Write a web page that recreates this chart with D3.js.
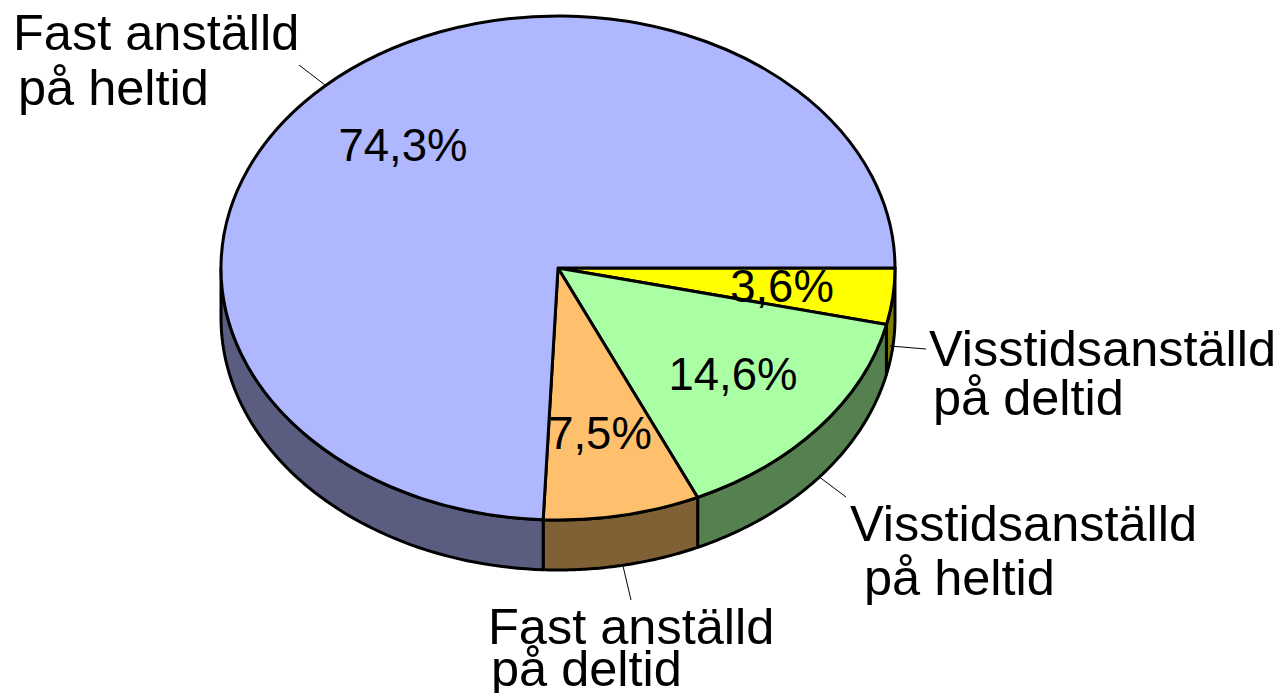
<!DOCTYPE html>
<meta charset="utf-8">
<style>
html, body { margin: 0; padding: 0; background: #fff; }
svg { display: block; }
text { font-family: "Liberation Sans", Arial, sans-serif; fill: #000; }
text.value { font-size: 45.5px; }
text.label { font-size: 50.5px; }
</style>
<svg id="chart" width="1279" height="693"></svg>
<script src="https://cdn.jsdelivr.net/npm/d3@7"></script>
<script>

// clockwise from 3 o'clock
var categories = ["Visstidsanställd på deltid", "Visstidsanställd på heltid", "Fast anställd på deltid", "Fast anställd på heltid"];
var values = [3.6, 14.6, 7.5, 74.3];
var valueLabels = ["3,6%", "14,6%", "7,5%", "74,3%"];
var topColors = ["#ffff00", "#aaffa5", "#ffc06e", "#afb7ff"];
var sideColors = ["#807f00", "#55804f", "#806035", "#5a5c80"];

var width = 1279, height = 693;
var cx = 558, cy = 268, rx = 337, ry = 252, depth = 50;

var svg = d3.select("#chart");

var x = d3.scaleLinear().domain([-1, 1]).range([cx - rx, cx + rx]);
var y = d3.scaleLinear().domain([-1, 1]).range([cy - ry, cy + ry]);

var pie = d3.pie().sort(null).value(function(d){ return d; })
	.startAngle(Math.PI / 2)
	.endAngle(Math.PI / 2 + Math.PI * 2);

var slices = pie(values);

// d3 angles run from 12 o'clock
function px(a){ return x(Math.sin(a)); }
function py(a){ return y(-Math.cos(a)); }

// side walls: only the front half of the ellipse shows
var frontStart = Math.PI / 2, frontEnd = Math.PI * 3 / 2;
slices.forEach(function(d, i){
	var a0 = Math.max(d.startAngle, frontStart);
	var a1 = Math.min(d.endAngle, frontEnd);
	if (a1 <= a0) return;
	var along = d3.range(0, 61).map(function(k){ return a0 + (a1 - a0) * k / 60; });
	var pts = along.map(function(a){ return [px(a), py(a)]; })
		.concat(along.slice().reverse().map(function(a){ return [px(a), py(a) + depth]; }));
	svg.append("path")
		.attr("d", d3.line()(pts) + "Z")
		.attr("fill", sideColors[i])
		.attr("stroke", "#000")
		.attr("stroke-width", 3)
		.attr("stroke-linejoin", "round");
});

// top face: unit arcs stretched to the ellipse
var arc = d3.arc().innerRadius(0).outerRadius(1);
svg.append("g")
	.attr("transform", "translate(" + cx + "," + cy + ") scale(" + rx + "," + ry + ")")
	.selectAll("path")
	.data(slices)
	.join("path")
	.attr("d", arc)
	.attr("fill", function(d, i){ return topColors[i]; })
	.attr("stroke", "#000")
	.attr("stroke-width", 3)
	.attr("vector-effect", "non-scaling-stroke")
	.attr("stroke-linejoin", "round");

// leader lines, [category index, x1, y1, x2, y2]
var leaders = [
	[0, 890, 346, 926, 349],
	[1, 818, 476, 846, 497],
	[2, 623, 566, 631, 600],
	[3, 299, 65, 325, 85]
];
svg.selectAll("line.leader")
	.data(leaders)
	.join("line")
	.attr("class", "leader")
	.attr("x1", function(d){ return d[1]; })
	.attr("y1", function(d){ return d[2]; })
	.attr("x2", function(d){ return d[3]; })
	.attr("y2", function(d){ return d[4]; })
	.attr("stroke", "#000")
	.attr("stroke-width", 1);

// percentages inside the slices
var valuePos = [[782, 302], [733, 390], [600, 449], [403, 161]];
svg.selectAll("text.value")
	.data(valueLabels)
	.join("text")
	.attr("class", "value")
	.attr("text-anchor", "middle")
	.attr("x", function(d, i){ return valuePos[i][0]; })
	.attr("y", function(d, i){ return valuePos[i][1]; })
	.text(function(d){ return d; });

// category labels, two lines each
var labelLines = [
	[["Visstidsanställd", 929, 366], ["på deltid", 933, 415]],
	[["Visstidsanställd", 850, 541], ["på heltid", 864, 595]],
	[["Fast anställd", 488, 644], ["på deltid", 491, 686]],
	[["Fast anställd", 13, 50], ["på heltid", 18, 105]]
];
labelLines.forEach(function(lines, i){
	svg.append("g")
		.attr("aria-label", categories[i])
		.selectAll("text")
		.data(lines)
		.join("text")
		.attr("class", "label")
		.attr("x", function(d){ return d[1]; })
		.attr("y", function(d){ return d[2]; })
		.text(function(d){ return d[0]; });
});

</script>
</html>
